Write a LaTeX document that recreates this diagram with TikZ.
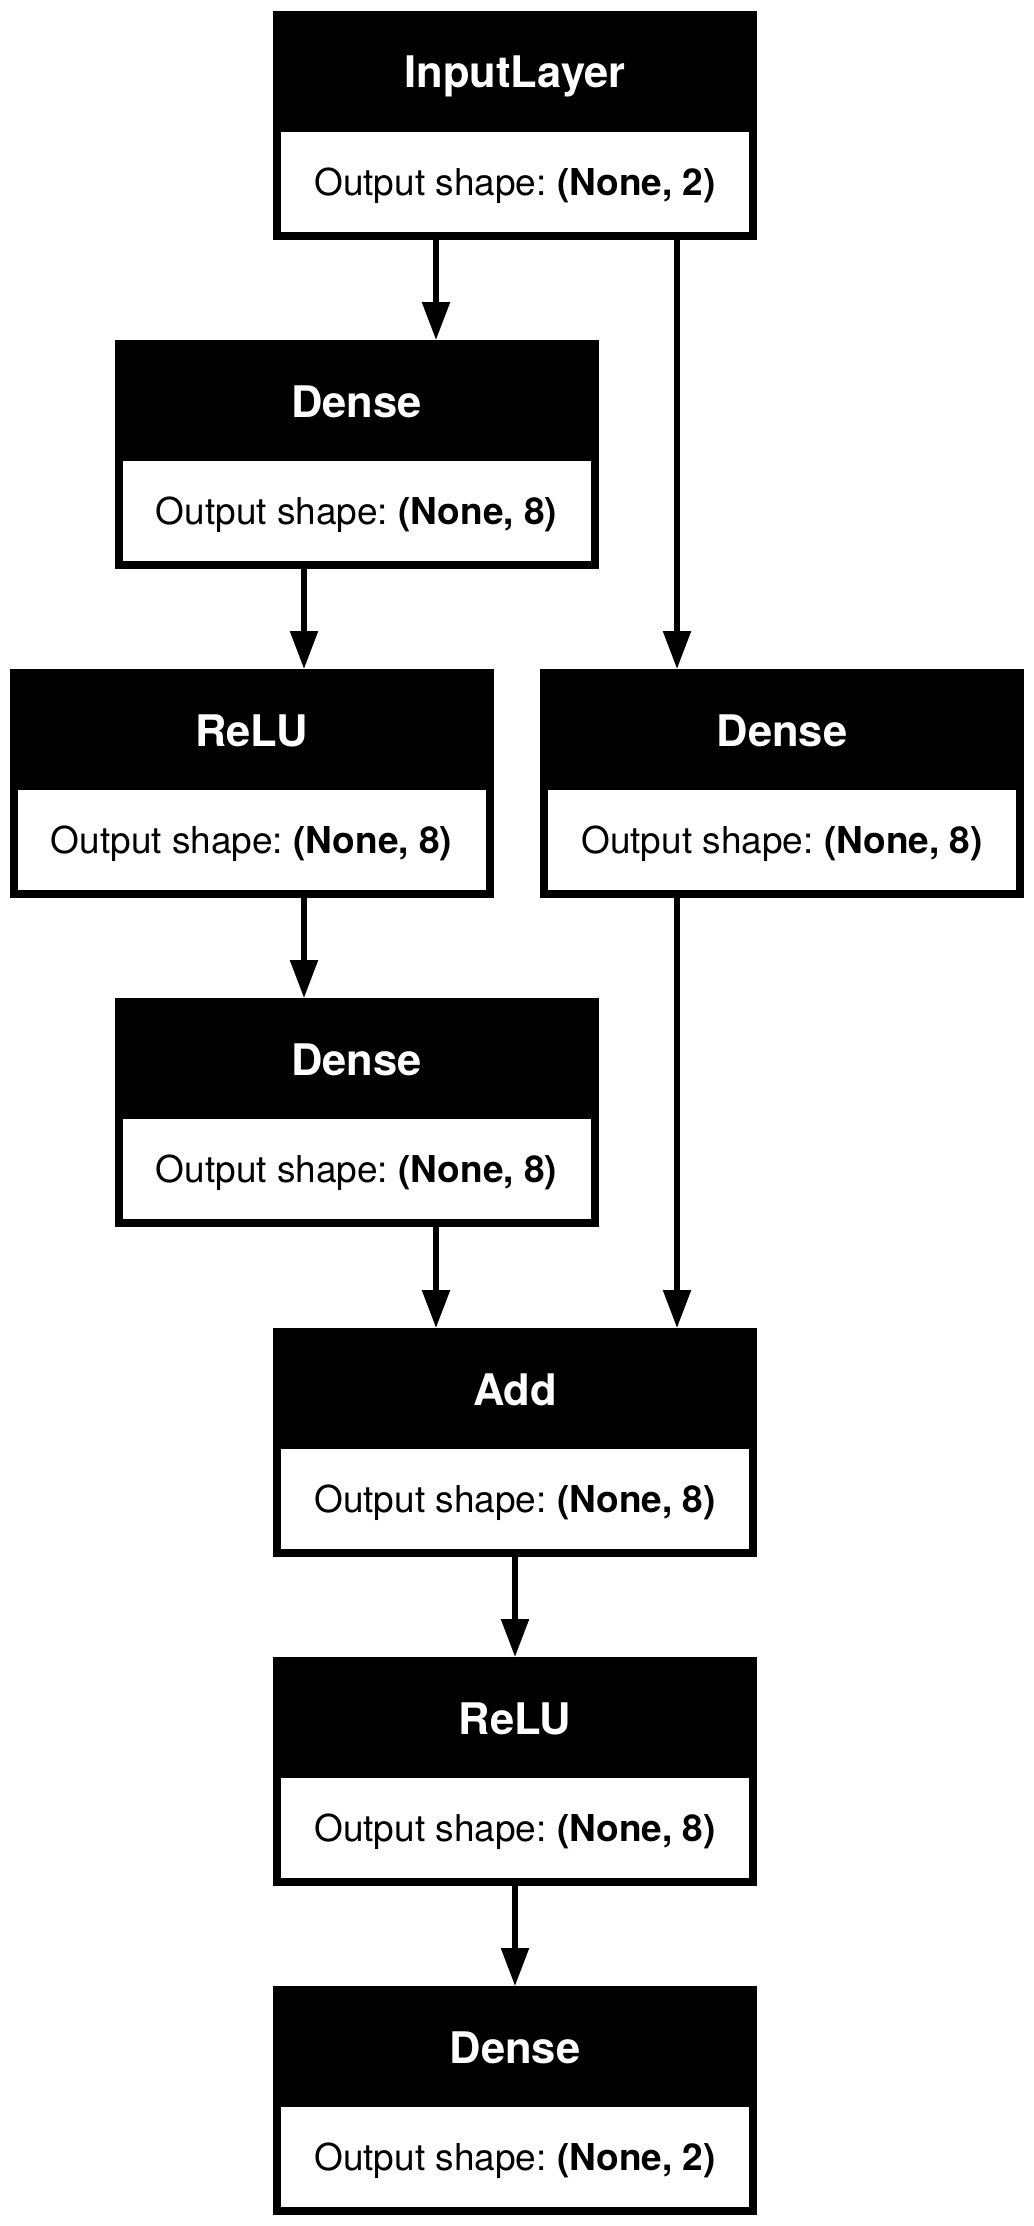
\documentclass[tikz,border=0pt]{standalone}
\usepackage{fontspec}
\setmainfont{TeX Gyre Heros}
\frenchspacing
\usetikzlibrary{arrows.meta}
\usetikzlibrary{calc}

\tikzset{
    layerbox/.style={draw=black, fill=black, line width=8pt, inner sep=0pt,
        minimum width=476pt, minimum height=221pt},
    titletext/.style={text=white, inner sep=0pt,
        font=\fontsize{43.5}{52}\selectfont\bfseries},
    shapetext/.style={fill=white, inner sep=0pt, minimum width=468pt,
        minimum height=100pt, text height=26.6pt, text depth=0pt,
        font=\fontsize{37}{44}\selectfont},
    arr/.style={line width=5.5pt, -{Triangle[length=38pt,width=27pt]}}
}

% name, centre x, top y, title, output shape
\newcommand{\layer}[5]{
    \node[layerbox, anchor=north] (#1) at (#2,#3) {};
    \node[titletext, anchor=base] (#1-t) at ($(#1.north)+(0,77)$) {#4};
    \node[shapetext, anchor=south] (#1-s) at ($(#1.south)+(0,-8)$) {Output shape: \textbf{#5}};
}

\begin{document}
\begin{tikzpicture}[x=1pt, y=-1pt]
		\useasboundingbox (0,0) rectangle (1033,2226);

		\layer{inp}{515}{11}{InputLayer}{(None, 2)}
		\layer{dns1}{356.5}{340}{Dense}{(None, 8)}
		\layer{relu1}{251.5}{669}{ReLU}{(None, 8)}
		\layer{dnsr}{782}{669}{Dense}{(None, 8)}
		\layer{dns2}{356.5}{998}{Dense}{(None, 8)}
		\layer{add}{515}{1328}{Add}{(None, 8)}
		\layer{relu2}{515}{1657}{ReLU}{(None, 8)}
		\layer{out}{515}{1986}{Dense}{(None, 2)}

		% lanes of the edges
		\coordinate (laneA) at (304,0);
		\coordinate (laneB) at (436,0);
		\coordinate (laneC) at (515,0);
		\coordinate (laneD) at (677,0);

		\draw[arr] (inp.south -| laneB) -- (dns1.north -| laneB);
		\draw[arr] (inp.south -| laneD) -- (dnsr.north -| laneD);
		\draw[arr] (dns1.south -| laneA) -- (relu1.north -| laneA);
		\draw[arr] (relu1.south -| laneA) -- (dns2.north -| laneA);
		\draw[arr] (dns2.south -| laneB) -- (add.north -| laneB);
		\draw[arr] (dnsr.south -| laneD) -- (add.north -| laneD);
		\draw[arr] (add.south -| laneC) -- (relu2.north -| laneC);
		\draw[arr] (relu2.south -| laneC) -- (out.north -| laneC);
		\end{tikzpicture}
\end{document}
